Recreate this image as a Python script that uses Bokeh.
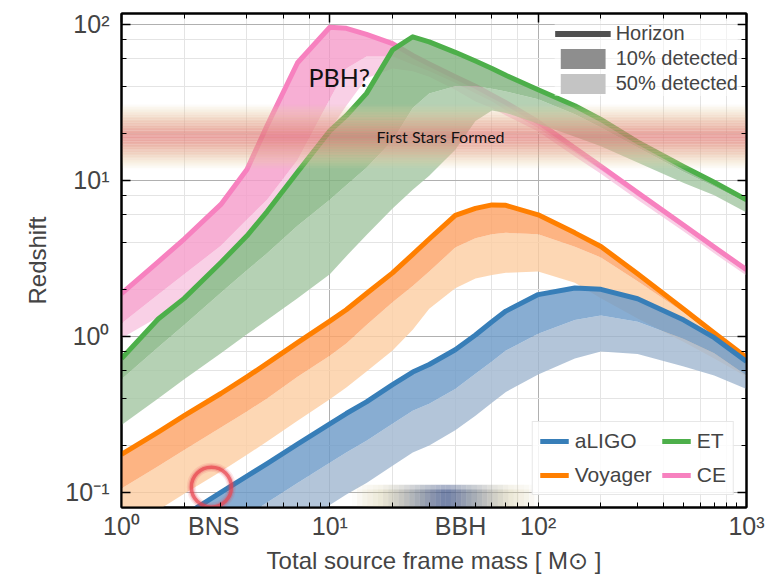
import numpy as np
from bokeh.plotting import figure
from bokeh.models import (LogAxis, Legend, LegendItem, Label, ColumnDataSource, LogTicker,
                          FixedTicker)
from bokeh.embed import file_html
from bokeh.resources import INLINE

# ---------------- data ----------------
mass = [1, 1.5, 2, 3, 4, 5, 7, 10, 12, 15, 20, 25, 30, 40, 50, 60, 70, 100, 150, 200, 300, 500, 700, 1000]

aligo_horizon = [0.040, 0.056, 0.071, 0.100, 0.127, 0.153, 0.204, 0.275, 0.32, 0.38, 0.49, 0.59, 0.66, 0.82, 1.02, 1.24, 1.45, 1.85, 2.04, 2.00, 1.74, 1.27, 0.98, 0.69]
aligo_10 = [0.0225, 0.0315, 0.040, 0.056, 0.071, 0.086, 0.115, 0.155, 0.18, 0.214, 0.275, 0.334, 0.37, 0.46, 0.575, 0.69, 0.81, 1.04, 1.27, 1.36, 1.24, 0.96, 0.78, 0.56]
aligo_50 = [0.012, 0.017, 0.0215, 0.030, 0.038, 0.046, 0.062, 0.083, 0.097, 0.115, 0.148, 0.18, 0.20, 0.25, 0.31, 0.375, 0.44, 0.57, 0.72, 0.80, 0.77, 0.64, 0.56, 0.46]

voyager_horizon = [0.175, 0.243, 0.31, 0.43, 0.55, 0.67, 0.91, 1.25, 1.48, 1.88, 2.55, 3.35, 4.2, 5.95, 6.6, 6.95, 6.9, 6.0, 4.6, 3.76, 2.52, 1.49, 1.05, 0.73]
voyager_10 = [0.106, 0.147, 0.187, 0.26, 0.33, 0.40, 0.55, 0.75, 0.90, 1.18, 1.65, 2.1, 2.6, 3.7, 4.25, 4.5, 4.6, 4.5, 3.75, 3.2, 2.25, 1.42, 1.0, 0.70]
voyager_50 = [0.055, 0.077, 0.098, 0.136, 0.174, 0.212, 0.288, 0.395, 0.47, 0.594, 0.81, 1.1, 1.5, 2.03, 2.35, 2.47, 2.55, 2.6, 2.2, 1.75, 1.3, 0.92, 0.72, 0.55]

et_horizon = [0.72, 1.29, 1.75, 2.97, 4.4, 6.3, 11.3, 20.7, 25.9, 36.0, 68.4, 83.0, 77.0, 66.0, 58.0, 52.0, 47.0, 38.0, 30.0, 24.5, 17.6, 12.2, 9.7, 7.5]
et_10 = [0.53, 0.85, 1.18, 1.9, 2.65, 3.4, 5.1, 7.5, 9.3, 12.0, 18.0, 29.0, 36.0, 40.0, 40.0, 38.5, 37.0, 33.0, 26.5, 21.8, 16.2, 11.3, 9.1, 7.2]
et_50 = [0.27, 0.40, 0.53, 0.78, 1.03, 1.27, 1.75, 2.5, 3.26, 4.46, 6.6, 8.7, 10.7, 15.7, 24.0, 28.0, 27.0, 23.0, 19.0, 16.5, 13.0, 9.6, 8.0, 6.2]

ce_horizon = [1.88, 3.0, 4.2, 7.0, 11.7, 22.4, 56.6, 95.5, 94.0, 86.0, 75.0, 63.0, 55.6, 46.0, 40.0, 35.0, 31.4, 23.6, 16.1, 12.3, 8.35, 5.14, 3.73, 2.67]
ce_10 = [1.21, 1.85, 2.5, 3.8, 5.6, 7.5, 13.5, 33.0, 52.0, 62.0, 62.0, 55.0, 50.0, 42.0, 36.0, 32.0, 28.0, 21.5, 15.0, 11.6, 7.9, 4.9, 3.55, 2.55]
ce_50 = [0.97, 1.33, 1.8, 3.0, 4.4, 6.3, 11.3, 21.0, 30.0, 45.0, 52.0, 50.0, 46.0, 38.0, 32.0, 29.0, 26.0, 20.5, 14.2, 11.0, 7.5, 4.7, 3.4, 2.45]

line_colors = {"aLIGO": "#377eb8", "Voyager": "#ff7f00", "ET": "#4daf4a", "CE": "#f781bf"}
dark_fill = {"aLIGO": "#6e9bc8", "Voyager": "#fca468", "ET": "#82b380", "CE": "#f59dcb"}
light_fill = {"aLIGO": "#a2b8d1", "Voyager": "#fdcea4", "ET": "#a5c7a4", "CE": "#f8c6e0"}
curves = {
    "aLIGO": (aligo_horizon, aligo_10, aligo_50),
    "Voyager": (voyager_horizon, voyager_10, voyager_50),
    "ET": (et_horizon, et_10, et_50),
    "CE": (ce_horizon, ce_10, ce_50),
}
draw_order = ["Voyager", "aLIGO", "CE", "ET"]
legend_order = ["aLIGO", "Voyager", "ET", "CE"]

x_limits = (1, 1000)
y_limits = (0.08, 117)

first_stars_z = 19.0          # centre of the "first stars formed" band
first_stars_halfwidth = 0.21  # dex
bbh_mass = 36.0               # centre of the BBH marker along x
bbh_halfwidth = 0.45          # dex
bbh_top = 0.112
bns_mass, bns_z = 2.7, 0.108

# bottom axis: decades plus the two population labels
x_ticks = [1, 2.77, 10, 42.4, 100, 1000]
x_tick_labels = ["10\u2070", "BNS", "10\u00b9", "BBH", "10\u00b2", "10\u00b3"]
x_minor = [2, 3, 4, 5, 6, 7, 8, 9, 10, 20, 30, 40, 50, 60, 70, 80, 90, 100,
           200, 300, 400, 500, 600, 700, 800, 900]
y_ticks = [0.1, 1, 10, 100]
y_tick_labels = ["10\u207b\u00b9", "10\u2070", "10\u00b9", "10\u00b2"]

# ---------------- figure ----------------
p = figure(width=783, height=576, x_axis_type="log", y_axis_type="log",
           x_range=x_limits, y_range=y_limits, output_backend="svg",
           toolbar_location=None, min_border_left=121, min_border_right=37,
           min_border_top=13, min_border_bottom=68)
p.background_fill_color = "white"
p.border_fill_color = "white"
p.outline_line_color = "black"
p.outline_line_width = 2

bottom_ax = p.below[0]
left_ax = p.left[0]
right_ax = LogAxis()
top_ax = LogAxis()
p.add_layout(right_ax, "right")
p.add_layout(top_ax, "above")

TICKFONT = "Liberation Sans"
for ax in [bottom_ax, left_ax, right_ax, top_ax]:
    ax.ticker = LogTicker(desired_num_ticks=4)
    ax.major_tick_in = 9
    ax.major_tick_out = 0
    ax.minor_tick_in = 5
    ax.minor_tick_out = 0
    ax.major_tick_line_color = "black"
    ax.minor_tick_line_color = "black"
    ax.major_tick_line_width = 1.5
    ax.minor_tick_line_width = 1
    ax.axis_line_color = "black"
    ax.axis_line_width = 2
    ax.major_label_text_font = TICKFONT
for ax in [right_ax, top_ax]:
    ax.major_label_text_font_size = "2px"
    ax.major_label_text_alpha = 0
    ax.major_label_standoff = 0

bottom_ax.ticker = FixedTicker(ticks=x_ticks, minor_ticks=x_minor)
bottom_ax.major_tick_in = 0
bottom_ax.major_label_overrides = dict(zip(x_ticks, x_tick_labels))
left_ax.major_label_overrides = dict(zip(y_ticks, y_tick_labels))
bottom_ax.major_label_text_font_size = "25px"
left_ax.major_label_text_font_size = "25px"
bottom_ax.major_label_standoff = 4
left_ax.major_label_standoff = 12
bottom_ax.axis_label = "Total source frame mass [ M\u2299 ]"
left_ax.axis_label = "Redshift"
for ax in [bottom_ax, left_ax]:
    ax.axis_label_text_font = TICKFONT
    ax.axis_label_text_font_size = "24px"
    ax.axis_label_text_font_style = "normal"
bottom_ax.axis_label_standoff = 4
left_ax.axis_label_standoff = 11

p.xgrid.ticker = LogTicker(desired_num_ticks=4)
p.ygrid.ticker = LogTicker(desired_num_ticks=4)
p.xgrid.grid_line_color = "#b0b0b0"
p.ygrid.grid_line_color = "#b0b0b0"
p.xgrid.minor_grid_line_color = "#e4e4e4"
p.ygrid.minor_grid_line_color = "#e4e4e4"

# ---------------- bands ----------------
det_renderers = {}
for d in draw_order:
    h, t10, t50 = curves[d]
    src = ColumnDataSource(dict(m=mass, h=h, t10=t10, t50=t50))
    p.varea(x="m", y1="t50", y2="t10", source=src, fill_color=light_fill[d], fill_alpha=0.82)
    p.varea(x="m", y1="t10", y2="h", source=src, fill_color=dark_fill[d], fill_alpha=0.82)
    det_renderers[d] = p.line(x="m", y="h", source=src, line_color=line_colors[d],
                              line_width=5, line_join="round")

# ---------------- first stars band ----------------
offs = np.linspace(-first_stars_halfwidth, first_stars_halfwidth, 43)
edges = first_stars_z * 10 ** offs
tt = np.abs((offs[:-1] + offs[1:]) / 2) / first_stars_halfwidth
c_mid = np.array([224, 122, 118])
c_edge = np.array([232, 205, 160])
cols = []
for t in tt:
    c = c_mid + (c_edge - c_mid) * min(1.0, t * 1.25)
    cols.append("#%02x%02x%02x" % tuple(int(v) for v in c))
alph = list(0.72 * (1 - tt ** 2.2))
p.quad(left=x_limits[0], right=x_limits[1], bottom=list(edges[:-1]), top=list(edges[1:]),
       fill_color=cols, fill_alpha=alph, line_color=None)

# ---------------- BBH marker ----------------
boffs = np.linspace(-bbh_halfwidth, bbh_halfwidth, 37)
bed = bbh_mass * 10 ** boffs
bt = np.abs((boffs[:-1] + boffs[1:]) / 2) / bbh_halfwidth
bc_mid = np.array([60, 82, 135])
bc_edge = np.array([215, 205, 165])
bcols = []
for t in bt:
    c = bc_mid + (bc_edge - bc_mid) * min(1.0, t * 1.4)
    bcols.append("#%02x%02x%02x" % tuple(int(v) for v in c))
for top_f, af in [(1.0, 0.45), (0.93, 0.5)]:
    balpha = list(af * (1 - bt ** 2))
    p.quad(left=list(bed[:-1]), right=list(bed[1:]), bottom=y_limits[0], top=bbh_top * top_f,
           fill_color=bcols, fill_alpha=balpha, line_color=None)

# ---------------- BNS ring ----------------
for lw, a in [(9, 0.12), (6, 0.25), (3.5, 0.7)]:
    p.scatter(x=[bns_mass], y=[bns_z], size=40, marker="circle", fill_alpha=0,
              line_color="#e8434f", line_width=lw, line_alpha=a)

# ---------------- text ----------------
p.add_layout(Label(x=11.1, y=46, text="PBH?", text_font="Lato", text_font_size="25px",
                   text_align="center", text_baseline="middle", text_color="#111111"))
p.add_layout(Label(x=34, y=first_stars_z, text="First Stars Formed", text_font="Lato",
                   text_font_size="16px", text_align="center", text_baseline="middle",
                   text_color="#111111"))

# ---------------- legends ----------------
leg = Legend(items=[LegendItem(label=d, renderers=[det_renderers[d]]) for d in legend_order],
             location="bottom_right", nrows=2)
leg.label_text_font = TICKFONT
leg.label_text_font_size = "21px"
leg.glyph_width = 29
leg.glyph_height = 22
leg.label_height = 22
leg.label_standoff = 6
leg.spacing = 10
leg.padding = 7
leg.margin = 12
leg.border_line_color = "#d0d0d0"
leg.background_fill_alpha = 0.85
p.add_layout(leg)

key_src = ColumnDataSource(dict(x=[0.5, 0.6], y1=[0.01, 0.01], y2=[0.02, 0.02]))
r_h = p.line(x="x", y="y1", source=key_src, line_color="#505050", line_width=6)
r_10 = p.varea(x="x", y1="y1", y2="y2", source=key_src, fill_color="#8e8e8e")
r_50 = p.varea(x="x", y1="y1", y2="y2", source=key_src, fill_color="#c4c4c4")
leg2 = Legend(items=[LegendItem(label="Horizon", renderers=[r_h]),
                     LegendItem(label="10% detected", renderers=[r_10]),
                     LegendItem(label="50% detected", renderers=[r_50])],
              location="top_right")
leg2.label_text_font = TICKFONT
leg2.label_text_font_size = "20px"
leg2.glyph_width = 56
leg2.glyph_height = 25
leg2.label_height = 25
leg2.spacing = 0
leg2.padding = 4
leg2.margin = 8
leg2.border_line_color = None
leg2.background_fill_alpha = 0.5
p.add_layout(leg2)

open("out.html", "w").write(file_html(p, INLINE))
